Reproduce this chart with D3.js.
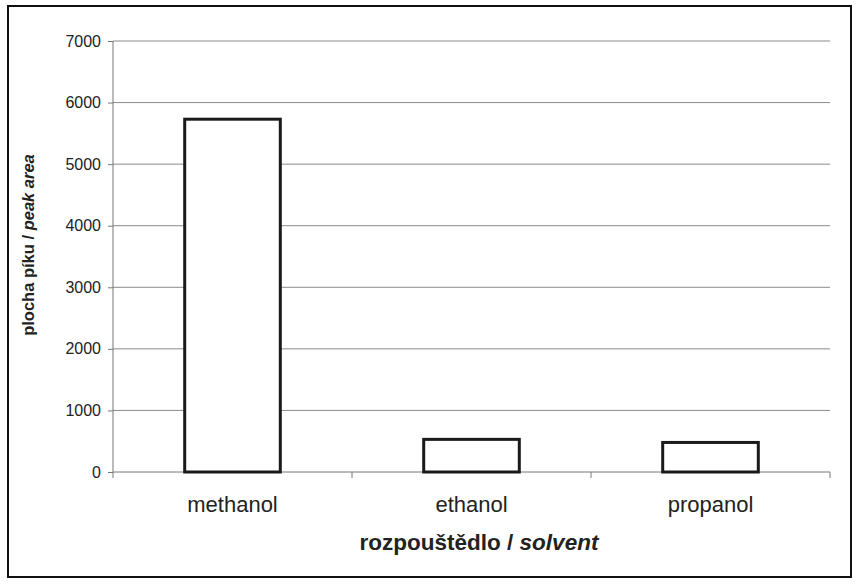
<!DOCTYPE html>
<html><head><meta charset="utf-8">
<script src="https://cdn.jsdelivr.net/npm/d3@7"></script>
<style>body{margin:0;background:#fff;}svg{display:block;font-family:"Liberation Sans",Arial,sans-serif;}</style>
</head><body>
<svg id="c" width="857" height="584"></svg>
<script>
const categories = ["methanol", "ethanol", "propanol"];
const values = [5730, 530, 480];
const yTicks = [0, 1000, 2000, 3000, 4000, 5000, 6000, 7000];

const svg = d3.select("#c");
const L = 113, R = 830, T = 41, B = 472;
const FF = "'Liberation Sans',Arial,sans-serif";

svg.append("rect").attr("x", 8).attr("y", 6).attr("width", 843).attr("height", 571)
  .attr("fill", "#fff").attr("stroke", "#111").attr("stroke-width", 2);

const x = d3.scaleBand().domain(categories).range([L, R]).padding(0);
const y = d3.scaleLinear().domain([0, 7000]).range([B, T]);

// gridlines
svg.append("g").selectAll("line").data(yTicks.filter(d => d > 0)).join("line")
  .attr("x1", L).attr("x2", R).attr("y1", d => y(d)).attr("y2", d => y(d))
  .attr("stroke", "#8a8a8a").attr("stroke-width", 1);

// y axis
const ya = svg.append("g").attr("transform", `translate(${L},0)`)
  .call(d3.axisLeft(y).tickValues(yTicks).tickSize(5).tickPadding(7).tickFormat(d3.format("d")));
ya.attr("font-size", null).attr("font-family", null);
ya.select(".domain").attr("stroke", "#777").attr("d", `M0,${T}V${B}`);
ya.selectAll(".tick line").attr("stroke", "#777");
ya.selectAll(".tick text").style("font-size", "16px").attr("fill", "#222")
  .style("font-family", FF);

// x axis
const xa = svg.append("g").attr("transform", `translate(0,${B})`)
  .call(d3.axisBottom(x).tickSize(0).tickPadding(24));
xa.attr("font-size", null).attr("font-family", null);
xa.select(".domain").attr("stroke", "#777").attr("d", `M${L},0H${R}`);
xa.selectAll(".tick text").style("font-size", "22px").attr("fill", "#222")
  .style("font-family", FF);
const bounds = categories.map(c => x(c)).concat([R]);
svg.append("g").selectAll("line").data(bounds).join("line")
  .attr("x1", d => d).attr("x2", d => d).attr("y1", B).attr("y2", B + 6)
  .attr("stroke", "#777");

// bars
const bw = x.bandwidth() * 0.4;
svg.append("g").selectAll("rect").data(categories).join("rect")
  .attr("x", c => x(c) + (x.bandwidth() - bw) / 2)
  .attr("y", (c, i) => y(values[i]))
  .attr("width", bw)
  .attr("height", (c, i) => B - y(values[i]))
  .attr("fill", "#fff").attr("stroke", "#1a1a1a").attr("stroke-width", 3);

// x title
const xt = svg.append("text").attr("x", 479).attr("y", 550).attr("text-anchor", "middle")
  .style("font-size", "22.5px").attr("font-weight", "bold").attr("fill", "#222");
xt.append("tspan").text("rozpouštědlo / ");
xt.append("tspan").attr("font-style", "italic").text("solvent");

// y title
const yt = svg.append("text").attr("transform", "translate(34,245) rotate(-90)")
  .attr("text-anchor", "middle").style("font-size", "16.5px").attr("font-weight", "bold").attr("fill", "#222");
yt.append("tspan").text("plocha píku / ");
yt.append("tspan").attr("font-style", "italic").text("peak area");
</script>
</body></html>
